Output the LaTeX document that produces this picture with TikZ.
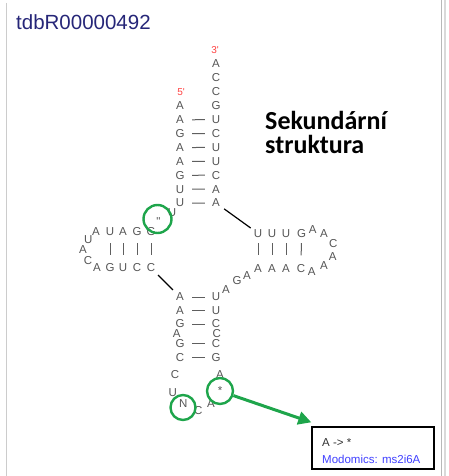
\documentclass[tikz,border=0pt]{standalone}
\usepackage{fontspec}
\setmainfont{Liberation Sans}
\newfontfamily\arial{Liberation Sans}
\newfontfamily\calib{Carlito}
\usetikzlibrary{calc,arrows.meta}
\definecolor{ntgray}{RGB}{85,85,85}
\definecolor{bondgray}{RGB}{95,95,95}
\definecolor{endred}{RGB}{255,64,64}
\definecolor{titleblue}{RGB}{38,38,120}
\definecolor{markgreen}{RGB}{30,165,75}
\definecolor{linkblue}{RGB}{64,64,255}
\definecolor{infotext}{RGB}{50,50,50}
\tikzset{
  nt/.style={font=\arial\fontsize{11.5}{12}\selectfont, text=ntgray, inner sep=0pt},
  endlbl/.style={font=\arial\fontsize{10}{11}\selectfont, text=endred, inner sep=0pt},
  bond/.style={draw=bondgray, line width=1pt},
  jump/.style={draw=black, line width=1.2pt},
  modring/.style={circle, draw=markgreen, line width=2.4pt, inner sep=0pt},
  pointer/.style={draw=markgreen, line width=3pt, -{Triangle[length=13pt,width=13pt]}},
  infobox/.style={draw=black, line width=1.4pt, minimum width=122pt, minimum height=42pt, inner sep=0pt},
  infotxt/.style={font=\arial\fontsize{11.5}{12}\selectfont, inner sep=0pt, anchor=base west},
  frame/.style={line width=1.2pt}
}
\begin{document}
\begin{tikzpicture}[x=1pt,y=-1pt]
\useasboundingbox (0,0) rectangle (449,476);

% panel edges
\draw[frame, draw=black!20] (6.5,3) -- (6.5,476);
\draw[frame, draw=black!28] (441.8,0) -- (441.8,476);
\draw[frame, draw=black!15] (445,0) -- (445,476);

% title
\node[anchor=base west, font=\arial\fontsize{20.5}{24}\selectfont, text=titleblue, inner sep=0pt]
  (title) at (16,29.5) {tdbR00000492};

% heading
\node[anchor=base west, font=\calib\bfseries\fontsize{26}{28}\selectfont, inner sep=0pt]
  (head1) at (265,129.5) {Sekundární};
\node[anchor=base west, font=\calib\bfseries\fontsize{26}{28}\selectfont, inner sep=0pt]
  (head2) at (265,153.3) {struktura};

% acceptor stem
\foreach \b [count=\i] in {A,A,G,A,A,G,U,U}
  \node[nt] (L\i) at (180,{106+13.86*(\i-1)}) {\b};
\foreach \b [count=\i] in {A,C,C,G,U,C,U,U,C,A,A}
  \node[nt] (R\i) at (216,{64+13.9*(\i-1)}) {\b};
\foreach \i in {2,...,8} {
  \pgfmathtruncatemacro\j{\i+3}
  \draw[bond] ($(L\i)!0.34!(R\j)$) -- ($(L\i)!0.69!(R\j)$);
}
\node[endlbl] (five) at (181,92) {5\textquotesingle};
\node[endlbl] (three) at (215,50) {3\textquotesingle};

% D arm
\node[nt] (D0) at (172,213) {U};
\node[nt] (Dm) at (158.3,221.5) {"};
\node[nt] (Dt1) at (151,232) {G};
\node[nt] (Dt2) at (137,232) {G};
\node[nt] (Dt3) at (123,232) {A};
\node[nt] (Dt4) at (110,232) {U};
\node[nt] (Dl1) at (96,232) {A};
\node[nt] (Dl2) at (88.3,239.5) {U};
\node[nt] (Dl3) at (83,250) {A};
\node[nt] (Dl4) at (88,261) {C};
\node[nt] (Dl5) at (97,268) {A};
\node[nt] (Db4) at (110,268) {G};
\node[nt] (Db3) at (123,268) {U};
\node[nt] (Db2) at (137,268) {C};
\node[nt] (Db1) at (151,268) {C};
\foreach \i in {1,...,4}
  \draw[bond] ($(Dt\i)!0.31!(Db\i)$) -- ($(Dt\i)!0.64!(Db\i)$);

% anticodon stem
\node[nt] (AL1) at (180,297) {A};
\node[nt] (AL2) at (180,310.5) {A};
\node[nt] (AL3) at (180,324) {G};
\node[nt] (ALb) at (176.7,333.5) {A};
\node[nt] (AL4) at (180,343.5) {G};
\node[nt] (AL5) at (180,357.5) {C};
\node[nt] (AR1) at (216,297) {U};
\node[nt] (AR2) at (216,310.5) {U};
\node[nt] (AR3) at (216,324) {C};
\node[nt] (ARb) at (216.7,333.5) {C};
\node[nt] (AR4) at (216,343.5) {C};
\node[nt] (AR5) at (216,357.5) {G};
\foreach \i in {1,...,5}
  \draw[bond] ($(AL\i)!0.34!(AR\i)$) -- ($(AL\i)!0.69!(AR\i)$);

% anticodon loop
\node[nt] (K1) at (175,375) {C};
\node[nt] (K2) at (172.7,392.7) {U};
\node[nt] (K3) at (183.3,404) {N};
\node[nt] (K4) at (198.3,410.5) {C};
\node[nt] (K5) at (211,404) {A};
\node[nt] (K6) at (220,390.5) {*};
\node[nt] (K7) at (220,374.5) {A};

% variable loop
\node[nt] (V1) at (226,289.5) {A};
\node[nt] (V2) at (237,281) {G};
\node[nt] (V3) at (247,276) {A};

% T arm
\node[nt] (Tt1) at (258,233.3) {U};
\node[nt] (Tt2) at (272,233.3) {U};
\node[nt] (Tt3) at (286,233.3) {U};
\node[nt] (Tt4) at (301.5,233.3) {G};
\node[nt] (Tl1) at (312.7,229.5) {A};
\node[nt] (Tl2) at (324,234) {A};
\node[nt] (Tl3) at (333.3,243.3) {C};
\node[nt] (Tl4) at (332.7,257) {A};
\node[nt] (Tl5) at (324,266) {A};
\node[nt] (Tl6) at (311.7,271.5) {A};
\node[nt] (Tb4) at (301,268.3) {C};
\node[nt] (Tb3) at (286,268.3) {A};
\node[nt] (Tb2) at (272,268.3) {A};
\node[nt] (Tb1) at (258,268.3) {A};
\foreach \i in {1,...,4}
  \draw[bond] ($(Tt\i)!0.28!(Tb\i)$) -- ($(Tt\i)!0.63!(Tb\i)$);

% backbone jumps
\draw[jump, shorten <=10pt, shorten >=10pt] (Db1.center) -- (AL1.center);
\draw[jump, shorten <=10pt, shorten >=9pt] (R11.center) -- (Tt1.center);

% modified nucleotide marks
\node[modring, minimum size=28pt] (ringD) at (157.5,219) {};
\node[modring, minimum size=25pt] (ringN) at (183,407.5) {};
\node[modring, minimum size=26pt] (ringS) at (220,391) {};

% modification info
\node[infobox] (info) at (373,448) {};
\node[infotxt, text=infotext] (infoA) at (322,446) {A -> *};
\node[infotxt, text=linkblue] (infoB) at (322,463) {Modomics: ms2i6A};
\draw[pointer] (ringS) -- ([yshift=4pt]info.north west);
\end{tikzpicture}
\end{document}
